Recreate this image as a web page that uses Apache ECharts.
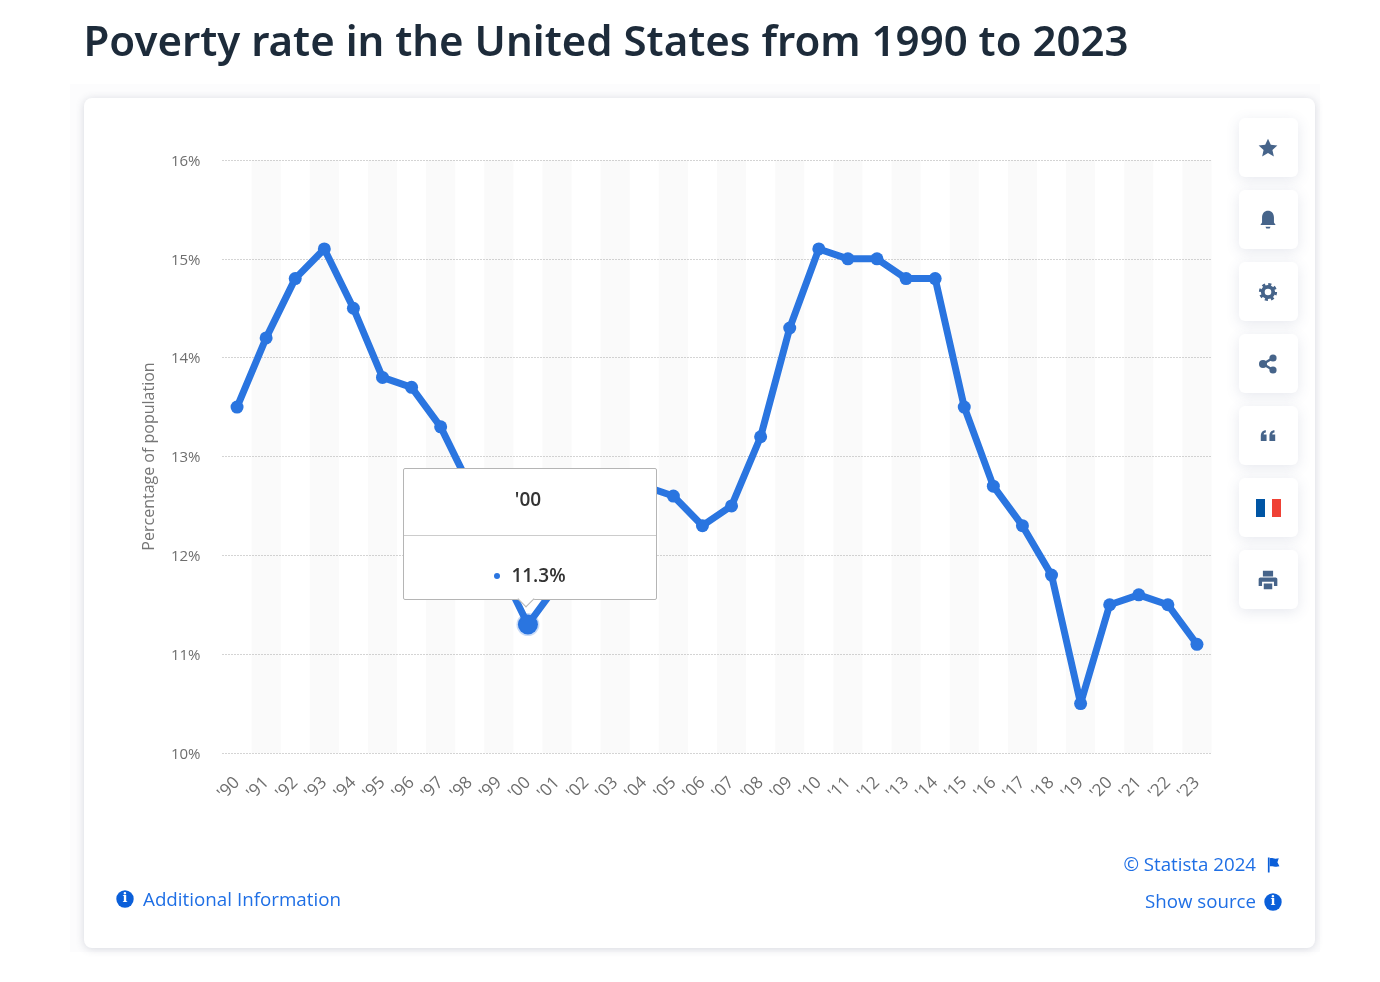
<!DOCTYPE html>
<html><head><meta charset="utf-8">
<style>html,body{margin:0;padding:0;background:#fff}#c{width:1380px;height:982px}</style>
<script src="https://cdn.jsdelivr.net/npm/echarts@6/dist/echarts.min.js"></script>
</head><body><div id="c"></div>
<script>
const categories = ["'90","'91","'92","'93","'94","'95","'96","'97","'98","'99","'00","'01","'02","'03","'04","'05","'06","'07","'08","'09","'10","'11","'12","'13","'14","'15","'16","'17","'18","'19","'20","'21","'22","'23"];
const povertyRate = [13.5,14.2,14.8,15.1,14.5,13.8,13.7,13.3,12.7,11.9,11.3,11.7,12.1,12.5,12.7,12.6,12.3,12.5,13.2,14.3,15.1,15.0,15.0,14.8,14.8,13.5,12.7,12.3,11.8,10.5,11.5,11.6,11.5,11.1];
const activeIndex = categories.indexOf("'00");
const titleText = "Poverty rate in the United States from 1990 to 2023";
const axisName = "Percentage of population";
const LINE = '#2a75e0', ICON = '#46648a', LINK = '#1f6fe5', FONT = '"Open Sans","Noto Sans",sans-serif';

const iconPaths = {
  iconStar:'M12 1l3.3 7.3 7.7.8-5.8 5.2 1.7 7.7L12 18l-6.9 4 1.7-7.7L1 9.1l7.7-.8z',
  iconBell:'M12 1C8 1 5 4 5 9v6l-2 3h18l-2-3V9c0-5-3-8-7-8zM9 20h6l-1 2h-4z',
  iconQuote:'M2 12C2 7 5 4 9 4v3c-2 0-3 1-3 3h4v9H2zM14 12c0-5 3-8 7-8v3c-2 0-3 1-3 3h4v9h-8z',
  iconPrinter:'M6 1h12v7H6zM3 9h18c1 0 2 1 2 2v8h-4v-5H5v5H1v-8c0-1 1-2 2-2zM7 16h10v7H7z',
  iconFlag:'M3 1h2.5v22H3zM6 2c4-1 6 2 13-0l-2 6 3 6c-6 2-10-1-14 0z'
};
Object.keys(iconPaths).forEach(k=>echarts.graphic.registerShape(k,echarts.graphic.extendPath(iconPaths[k],{})));

const chart = echarts.init(document.getElementById('c'), null, {renderer:'canvas', width:1380, height:982});

function button(y){return {type:'rect',shape:{x:1239,y:y,width:59,height:59,r:6},style:{fill:'#fff',shadowBlur:14,shadowColor:'rgba(60,80,120,.13)',shadowOffsetY:3},z:1};}
function icon(name,cx,cy,s,fill){return {type:name,x:cx-12*s,y:cy-12*s,scaleX:s,scaleY:s,shape:{},style:{fill:fill||ICON},z:2};}
function info(cx,cy){return [
  {type:'circle',shape:{cx:cx,cy:cy,r:8.7},style:{fill:'#0b5fd9'},z:2},
  {type:'text',style:{x:cx,y:cy,text:'i',fill:'#fff',font:'bold 13px "DejaVu Serif",serif',align:'center',verticalAlign:'middle'},z:3}];}

const graphics = [
  {type:'rect',shape:{x:70,y:84,width:1250,height:868},style:{fill:'#fcfcfd'},z:0},
  {type:'rect',shape:{x:84,y:98,width:1231,height:850,r:8},style:{fill:'#fff',shadowBlur:8,shadowColor:'rgba(60,70,100,.2)',shadowOffsetY:1},z:0},
  ...[118,190,262,334,406,478,550].map(button),
  icon('iconStar',1268,148,0.85), icon('iconBell',1268,220,0.85),
  {type:'circle',shape:{cx:1268,cy:292,r:7.6},style:{fill:'none',stroke:ICON,lineWidth:3,lineDash:[3,2.97]},z:2},
  {type:'circle',shape:{cx:1268,cy:292,r:5.2},style:{fill:'#fff',stroke:ICON,lineWidth:3.8},z:2},
  {type:'polyline',shape:{points:[[1273,358],[1263,364],[1273,370]]},style:{fill:'none',stroke:ICON,lineWidth:2.5},z:2},
  {type:'circle',shape:{cx:1273,cy:358,r:3.6},style:{fill:ICON},z:2},
  {type:'circle',shape:{cx:1263,cy:364,r:4},style:{fill:ICON},z:2},
  {type:'circle',shape:{cx:1273,cy:370,r:3.6},style:{fill:ICON},z:2},
  icon('iconQuote',1268,436,0.72),
  {type:'rect',shape:{x:1256,y:499,width:9,height:18},style:{fill:'#0055a4'},z:2},
  {type:'rect',shape:{x:1272,y:499,width:9,height:18},style:{fill:'#ef4135'},z:2},
  icon('iconPrinter',1268,580,0.85),
  ...info(125,899), ...info(1273,902),
  icon('iconFlag',1274,865,0.68,'#0b5fd9'),
  {type:'text',style:{x:83.5,y:44,text:titleText,fill:'#1d2b3a',font:'600 42px "Noto Sans",sans-serif',verticalAlign:'middle'},z:5},
  {type:'text',style:{x:143,y:900.5,text:'Additional Information',fill:LINK,font:'18.8px '+FONT,verticalAlign:'middle'},z:5},
  {type:'text',style:{x:1256,y:866,text:'© Statista 2024',fill:LINK,font:'18.7px '+FONT,align:'right',verticalAlign:'middle'},z:5},
  {type:'text',style:{x:1256,y:903,text:'Show source',fill:LINK,font:'18.7px '+FONT,align:'right',verticalAlign:'middle'},z:5}
];

chart.setOption({
  animation:false,
  backgroundColor:'#fff',
  graphic:{elements:graphics},
  grid:{left:222.5,top:160,width:989,height:593,containLabel:false},
  tooltip:{
    trigger:'item',alwaysShowContent:true,triggerOn:'none',transitionDuration:0,
    padding:0,borderWidth:1,borderColor:'#b5b5b5',borderRadius:2,backgroundColor:'#fff',
    extraCssText:'box-shadow:none;overflow:visible;',
    position:function(p){return [p[0]-125,p[1]-156.5];},
    formatter:function(p){
      return '<div style="width:252px;height:130px;position:relative;font-family:\'Open Sans\',sans-serif;color:#333;font-weight:600;font-size:19px;line-height:1">'+
      '<div style="position:absolute;left:0;right:0;top:21px;padding-right:4px;text-align:center">'+p.name+'</div>'+
      '<div style="position:absolute;left:0;right:0;top:66px;height:1px;background:#ccc"></div>'+
      '<div style="position:absolute;left:0;right:0;top:97px;text-align:center"><span style="display:inline-block;width:6px;height:6px;border-radius:3px;background:'+LINE+';vertical-align:3px;margin-right:11px"></span>'+p.value+'%</div>'+
      '<div style="position:absolute;left:116px;top:124px;width:11px;height:11px;background:#fff;border-right:1px solid #b5b5b5;border-bottom:1px solid #b5b5b5;transform:rotate(45deg)"></div>'+
      '</div>';
    }
  },
  xAxis:{
    type:'category',data:categories,boundaryGap:true,z:0,
    axisLine:{show:false},axisTick:{show:false},
    axisLabel:{interval:0,rotate:45,color:'#6e6e6e',fontSize:17,fontFamily:FONT,margin:27},
    splitLine:{show:false},
    splitArea:{show:true,interval:0,areaStyle:{color:['rgba(255,255,255,0)','#fafafa']}}
  },
  yAxis:{
    type:'value',min:10,max:16,interval:1,z:1,
    name:axisName,nameLocation:'middle',nameGap:65,nameRotate:90,
    nameTextStyle:{color:'#757575',fontSize:16,fontFamily:FONT},
    axisLine:{show:false},axisTick:{show:false},
    axisLabel:{formatter:'{t|{value}%}',margin:22,
      rich:{t:{color:'#6e6e6e',fontSize:15,fontFamily:FONT,padding:[3,0,0,0]}}},
    splitLine:{show:true,lineStyle:{color:'#a8a8a8',type:[1,2],width:1}}
  },
  series:[{
    type:'line',silent:true,z:3,
    data:povertyRate.map((v,i)=>i===activeIndex
      ?{value:v,symbolSize:20,itemStyle:{color:LINE,borderColor:'rgba(42,117,224,.25)',borderWidth:3}}
      :v),
    symbol:'circle',symbolSize:13,showAllSymbol:true,
    lineStyle:{color:LINE,width:7,cap:'round',join:'round'},
    itemStyle:{color:LINE}
  }]
});
chart.dispatchAction({type:'showTip',seriesIndex:0,dataIndex:activeIndex});
</script></body></html>
